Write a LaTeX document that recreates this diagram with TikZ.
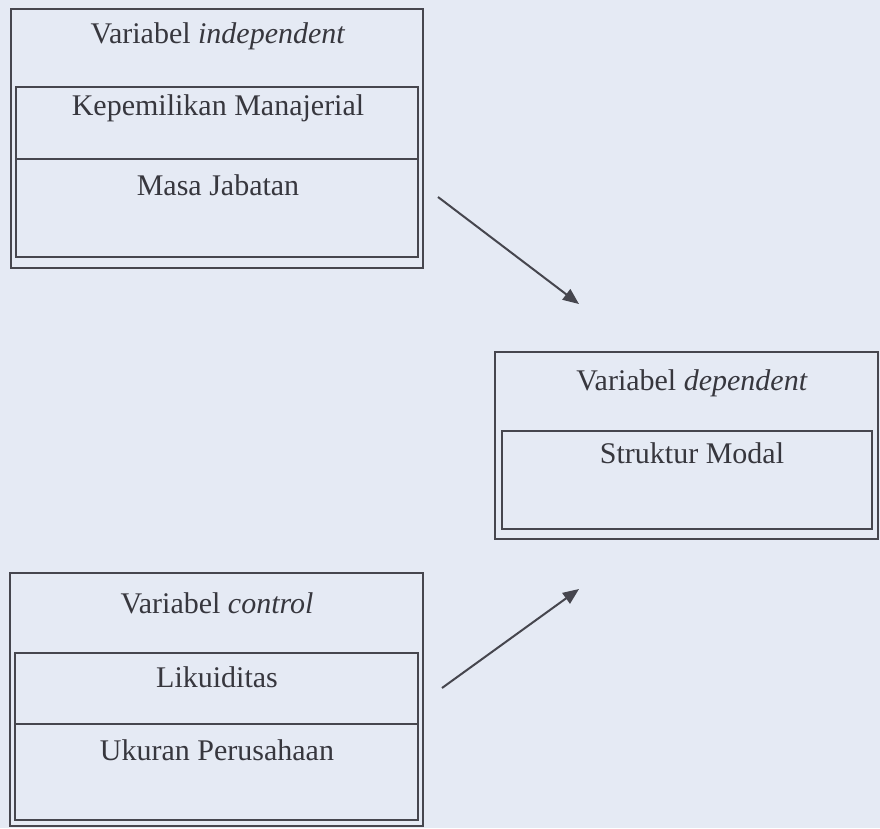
\documentclass[tikz,border=0pt]{standalone}
\usepackage{fontspec}
\setmainfont{Liberation Serif}
\usepackage{tikz}
\usetikzlibrary{arrows.meta}

\definecolor{bgcol}{RGB}{229,234,244}
\definecolor{linecol}{RGB}{70,70,78}
\definecolor{txtcol}{RGB}{55,55,62}

\tikzset{
	framebox/.style={draw=linecol, line width=1.5pt, inner sep=0pt},
	cellbox/.style={draw=linecol, line width=1.2pt, inner sep=0pt},
	vartext/.style={text=txtcol, font=\fontsize{30}{35}\selectfont, inner sep=0pt},
	varrow/.style={draw=linecol, line width=2pt, -{Triangle[length=16pt, width=13pt]}}
}

\begin{document}
\begin{tikzpicture}[x=1pt, y=-1pt]
		
		% Background
		\useasboundingbox (0,0) rectangle (880,828);
		\fill[bgcol] (0,0) rectangle (880,828);
		
		% Variabel independent
		\node[framebox, minimum width=412pt, minimum height=259pt] (indep) at (217,138.5) {};
		\node[cellbox, minimum width=402pt, minimum height=72pt] (indepA) at (217,123) {};
		\node[cellbox, minimum width=402pt, minimum height=98pt] (indepB) at (217,208) {};
		\node[vartext] (indepT) at (218,36) {Variabel \textit{independent}};
		\node[vartext] (indepA-t) at (218,108) {Kepemilikan Manajerial};
		\node[vartext] (indepB-t) at (218,185) {Masa Jabatan};
		
		% Variabel dependent
		\node[framebox, minimum width=383pt, minimum height=187pt] (dep) at (686.5,445.5) {};
		\node[cellbox, minimum width=370pt, minimum height=98pt] (depA) at (687,480) {};
		\node[vartext] (depT) at (692,383) {Variabel \textit{dependent}};
		\node[vartext] (depA-t) at (692,453) {Struktur Modal};
		
		% Variabel control
		\node[framebox, minimum width=413pt, minimum height=253pt] (ctrl) at (216.5,699.5) {};
		\node[cellbox, minimum width=403pt, minimum height=71pt] (ctrlA) at (216.5,688.5) {};
		\node[cellbox, minimum width=403pt, minimum height=96pt] (ctrlB) at (216.5,772) {};
		\node[vartext] (ctrlT) at (217,603) {Variabel \textit{control}};
		\node[vartext] (ctrlA-t) at (217,677) {Likuiditas};
		\node[vartext] (ctrlB-t) at (217,750) {Ukuran Perusahaan};
		
		% Arrow ends
		\coordinate (indep-out) at (438,197);
		\coordinate (dep-in1) at (579,304);
		\coordinate (ctrl-out) at (442,688);
		\coordinate (dep-in2) at (579,589);
		
		% Arrows
		\draw[varrow] (indep-out) -- (dep-in1);
		\draw[varrow] (ctrl-out) -- (dep-in2);
		
	\end{tikzpicture}
\end{document}
